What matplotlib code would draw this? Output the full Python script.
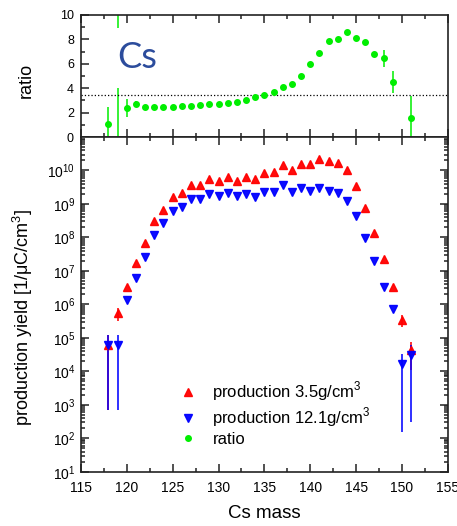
import numpy as np
import matplotlib
matplotlib.use("Agg")
import matplotlib.pyplot as plt
from matplotlib.ticker import MultipleLocator, LogLocator, FixedLocator, NullFormatter

plt.rcParams['font.family'] = ['Liberation Sans', 'DejaVu Sans']

# Cs isotopes, mass number
mass = np.arange(118, 152)

# yield for the 3.5 g/cm3 target
yield_low = np.array([6.2e4, 5.4e5, 3.4e6, 1.7e7, 6.9e7, 3.1e8, 6.6e8, 1.58e9, 2.1e9, 3.6e9,
                      3.7e9, 5.5e9, 4.7e9, 6.2e9, 4.9e9, 6.3e9, 5.5e9, 8.3e9, 9.1e9, 1.5e10,
                      1.02e10, 1.6e10, 1.6e10, 2.2e10, 1.9e10, 1.7e10, 1.07e10, 3.5e9, 7.7e8,
                      1.35e8, 2.2e7, 3.4e6, 3.5e5, 4.4e4])
err_low = np.array([6.13e4, 2.2e5] + [0] * 30 + [1.4e5, 3.3e4])

# yield for the 12.1 g/cm3 target
yield_high = np.array([6.2e4, 6.2e4, 1.35e6, 6.2e6, 2.6e7, 1.2e8, 2.7e8, 6.2e8, 8.3e8, 1.37e9,
                       1.37e9, 2.0e9, 1.7e9, 2.1e9, 1.7e9, 2.0e9, 1.6e9, 2.35e9, 2.35e9, 3.6e9,
                       2.3e9, 3.1e9, 2.5e9, 3.0e9, 2.4e9, 2.1e9, 1.23e9, 4.3e8, 9.5e7, 2.0e7,
                       3.2e6, 7.1e5, 1.6e4, 3.1e4])
err_high = np.array([6.13e4, 6.13e4] + [0] * 30 + [1.585e4, 3.07e4])

# ratio of the two (no point at 150)
ratio = np.array([1.04, 8.7, 2.38, 2.74, 2.49, 2.46, 2.43, 2.49, 2.52, 2.57, 2.6, 2.68, 2.7,
                  2.76, 2.85, 3.07, 3.26, 3.48, 3.7, 4.08, 4.36, 5.0, 5.97, 6.88, 7.84, 8.05,
                  8.63, 8.1, 7.78, 6.82, 6.44, 4.49, np.nan, 1.53])
ratio_err = np.array([1.4, 10, 0.75, 0.25] + [0] * 26 + [0.7, 0.92, 0, 1.85])
density_ratio = 12.1 / 3.5

fig = plt.figure(figsize=(4.57, 5.26), dpi=100)
ax_top = fig.add_axes([0.177, 0.7395, 0.803, 0.232])
ax_bot = fig.add_axes([0.177, 0.1032, 0.803, 0.6363])

# top panel: ratio
ratio_plot = ax_top.errorbar(mass, ratio, yerr=ratio_err, fmt='o', color='#00ee00', ms=4,
                             elinewidth=1.1, capsize=0, label='ratio')
ax_top.axhline(density_ratio, color='black', linestyle=':', linewidth=0.9)
ax_top.set_xlim(115, 155)
ax_top.set_ylim(0, 10)
ax_top.xaxis.set_major_locator(MultipleLocator(5))
ax_top.xaxis.set_minor_locator(MultipleLocator(2.5))
ax_top.yaxis.set_major_locator(MultipleLocator(2))
ax_top.yaxis.set_minor_locator(MultipleLocator(1))
ax_top.tick_params(which='both', direction='in', top=True, bottom=True, labelbottom=False,
                   width=1.1, color='#222222')
ax_top.tick_params(which='major', length=5.5, labelsize=9, pad=5)
ax_top.tick_params(which='minor', length=2.8)
ax_top.set_ylabel('ratio', fontsize=13)
ax_top.yaxis.set_label_coords(-0.125, 0.467)
# white box behind the label hides part of the 119 point
ax_top.text(0.098, 0.65, 'Cs', transform=ax_top.transAxes, fontsize=26, family='Lato',
            color='#2c4c9c', ha='left', va='center', zorder=5,
            bbox=dict(facecolor='white', edgecolor='none', pad=9.5))

# bottom panel: production yields
low_plot = ax_bot.errorbar(mass, yield_low, yerr=err_low, fmt='^', color='red', ms=5.5,
                           elinewidth=1.2, capsize=0, alpha=0.95)
high_plot = ax_bot.errorbar(mass, yield_high, yerr=err_high, fmt='v', color='blue', ms=5.5,
                            elinewidth=1.2, capsize=0, alpha=0.95)
ax_bot.set_yscale('log')
ax_bot.set_xlim(115, 155)
ax_bot.set_ylim(1e1, 1e11)
ax_bot.xaxis.set_major_locator(MultipleLocator(5))
ax_bot.xaxis.set_minor_locator(MultipleLocator(2.5))
decades = np.arange(1, 11)
ax_bot.yaxis.set_major_locator(FixedLocator(10.0 ** decades))
ax_bot.set_yticklabels(['$\\mathregular{10^{%d}}$' % d for d in decades])
ax_bot.yaxis.set_minor_locator(LogLocator(base=10, subs=np.arange(2, 10), numticks=20))
ax_bot.yaxis.set_minor_formatter(NullFormatter())
ax_bot.tick_params(which='both', direction='in', top=True, right=True, width=1.1, color='#222222')
ax_bot.tick_params(which='major', length=5.5, labelsize=10, pad=4)
ax_bot.tick_params(which='minor', length=2.8)
ax_bot.tick_params(axis='x', which='major', pad=7)
ax_bot.set_xlabel('Cs mass', fontsize=13.5)
ax_bot.xaxis.set_label_coords(0.5, -0.098)
ax_bot.set_ylabel('production yield [1/\u03bcC/cm$^{\\mathregular{3}}$]', fontsize=13)
ax_bot.yaxis.set_label_coords(-0.125, 0.462)

# legend uses the markers only
ax_bot.legend(handles=[low_plot[0], high_plot[0], ratio_plot[0]],
              labels=['production 3.5g/cm$^{\\mathregular{3}}$',
                      'production 12.1g/cm$^{\\mathregular{3}}$', 'ratio'],
              loc='upper left', bbox_to_anchor=(0.27, 0.275), frameon=False, fontsize=12,
              handlelength=1.0, handletextpad=0.95, labelspacing=0.15,
              borderpad=0, borderaxespad=0)

for ax in (ax_top, ax_bot):
    for spine in ax.spines.values():
        spine.set_linewidth(1.2)
        spine.set_color('#222222')

fig.savefig('out.png', dpi=100)
